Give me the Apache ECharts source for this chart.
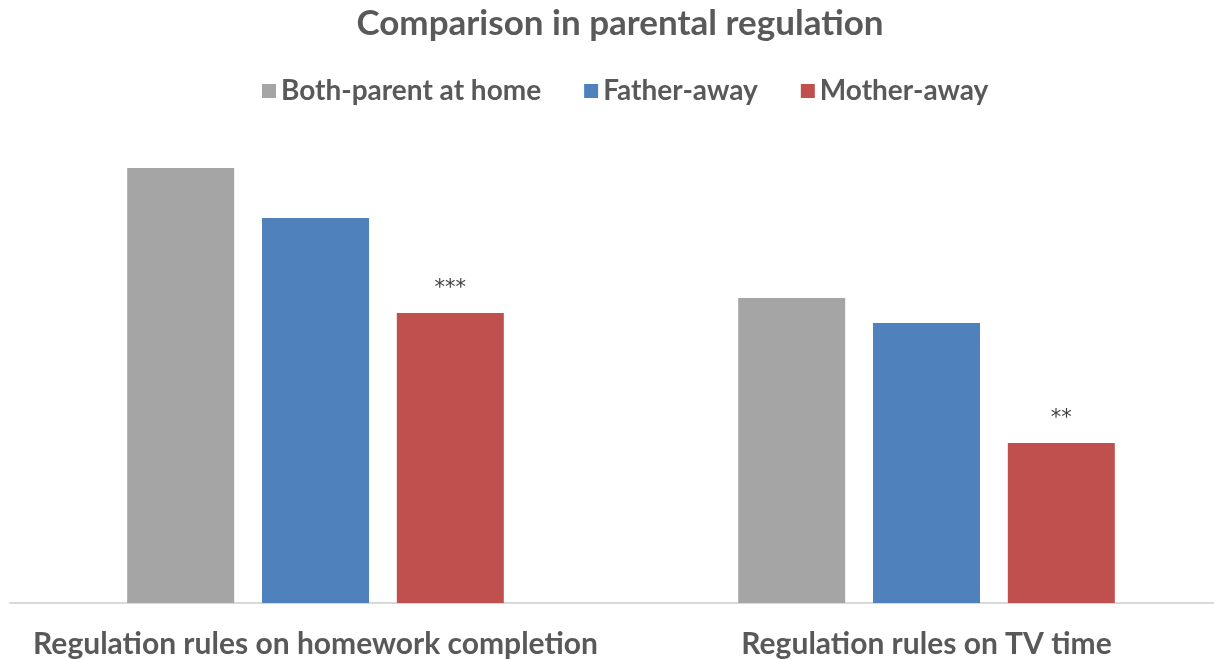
<!DOCTYPE html>
<html>
<head>
<meta charset="utf-8">
<title>Comparison in parental regulation</title>
<script src="https://cdn.jsdelivr.net/npm/echarts@6/dist/echarts.min.js"></script>
<style>
  html, body { margin: 0; padding: 0; background: #ffffff; overflow: hidden; }
  #chart { width: 1240px; height: 660px; }
</style>
</head>
<body>
<div id="chart"></div>
<script>
// Regulation outcomes compared across family arrangements
const categories = ['Regulation rules on homework completion', 'Regulation rules on TV time'];
const seriesNames = ['Both-parent at home', 'Father-away', 'Mother-away'];
const bothParent = [0.87, 0.61];
const fatherAway = [0.77, 0.56];
const motherAway = [0.58, 0.32];
// significance markers shown above the mother-away bars
const motherAwayMarks = ['***', '**'];

const colors = ['#a5a5a5', '#4f81bd', '#c0504d'];
const fontFamily = 'Lato, "Open Sans", "DejaVu Sans", sans-serif';

const chart = echarts.init(document.getElementById('chart'));

function barSeries(name, data, color, marks) {
  const s = {
    name: name,
    type: 'bar',
    data: data,
    barWidth: 107,
    barGap: '26%',
    itemStyle: { color: color },
    emphasis: { disabled: true }
  };
  if (marks) {
    s.label = {
      show: true,
      position: 'top',
      distance: 14,
      color: '#404040',
      fontSize: 21,
      fontFamily: '"DejaVu Sans", sans-serif',
      formatter: p => marks[p.dataIndex]
    };
  }
  return s;
}

chart.setOption({
  animation: false,
  backgroundColor: '#ffffff',
  title: {
    text: 'Comparison in parental regulation',
    left: 'center',
    top: 1,
    textStyle: { color: '#595959', fontSize: 35, fontWeight: 'bold', fontFamily: fontFamily }
  },
  legend: {
    data: seriesNames,
    top: 72,
    left: 257,
    itemWidth: 14,
    itemHeight: 14,
    itemGap: 43,
    icon: 'rect',
    textStyle: { color: '#595959', fontSize: 28, fontWeight: 'bold', fontFamily: fontFamily }
  },
  grid: { left: 10, right: 8, top: 103, bottom: 57, containLabel: false },
  xAxis: {
    type: 'category',
    data: categories,
    axisLine: { lineStyle: { color: '#d9d9d9', width: 2 } },
    axisTick: { show: false },
    axisLabel: {
      interval: 0,
      color: '#595959',
      fontSize: 30,
      fontWeight: 'bold',
      fontFamily: fontFamily,
      margin: 26
    }
  },
  yAxis: {
    type: 'value',
    min: 0,
    max: 1,
    show: false,
    splitLine: { show: false }
  },
  series: [
    barSeries(seriesNames[0], bothParent, colors[0]),
    barSeries(seriesNames[1], fatherAway, colors[1]),
    barSeries(seriesNames[2], motherAway, colors[2], motherAwayMarks)
  ]
});
</script>
</body>
</html>
